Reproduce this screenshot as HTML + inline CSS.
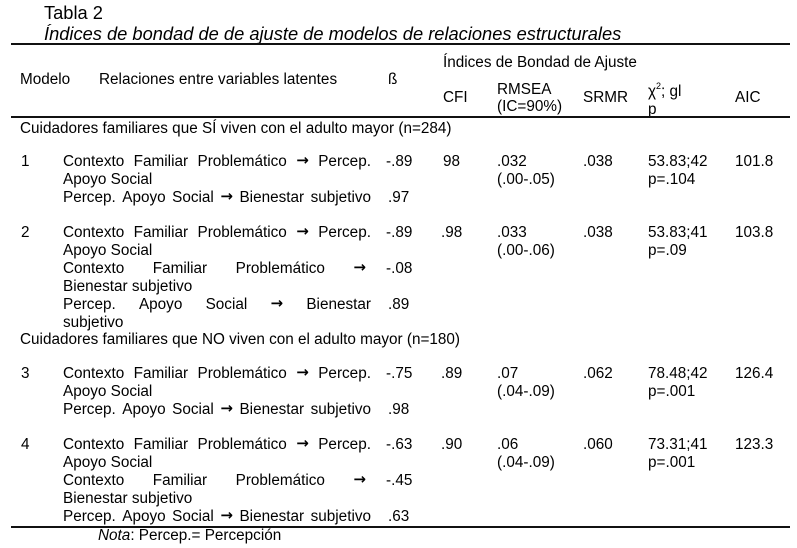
<!DOCTYPE html>
<html>
<head>
<meta charset="utf-8">
<style>
  html, body { margin:0; padding:0; background:#fff; }
  body { width:797px; height:548px; position:relative; overflow:hidden;
         font-family:"Liberation Sans", Arial, sans-serif; color:#000; }
  .t { position:absolute; font-size:15.3px; line-height:17px; white-space:nowrap; }
  .ti { position:absolute; font-size:18.3px; line-height:20px; white-space:nowrap; }
  .rule { position:absolute; left:11px; width:779px; height:2px; background:#111; }
  .j { position:absolute; left:63px; width:308px; display:flex; justify-content:space-between;
       font-size:15.3px; line-height:17px; white-space:nowrap; }
  .a { font-family:"DejaVu Sans", sans-serif; font-size:15px; font-weight:bold; position:relative; top:-1px; }
  sup { font-size:9px; line-height:0; position:relative; top:-1px; }
</style>
</head>
<body>
  <div class="ti" style="left:44px;top:3px;">Tabla 2</div>
  <div class="ti" style="left:44px;top:24px;font-style:italic;">Índices de bondad de de ajuste de modelos de relaciones estructurales</div>

  <div class="rule" style="top:43px;"></div>

  <div class="t" style="left:443px;top:54px;">Índices de Bondad de Ajuste</div>
  <div class="t" style="left:20px;top:71px;">Modelo</div>
  <div class="t" style="left:99px;top:71px;">Relaciones entre variables latentes</div>
  <div class="t" style="left:388px;top:71px;">ß</div>

  <div class="t" style="left:443px;top:89px;">CFI</div>
  <div class="t" style="left:497px;top:81px;">RMSEA</div>
  <div class="t" style="left:497px;top:98px;">(IC=90%)</div>
  <div class="t" style="left:583px;top:89px;">SRMR</div>
  <div class="t" style="left:648px;top:83px;">χ<sup>2</sup>; gl</div>
  <div class="t" style="left:648px;top:101px;">p</div>
  <div class="t" style="left:735px;top:89px;">AIC</div>

  <div class="rule" style="top:116px;"></div>

  <div class="t" style="left:20px;top:120px;">Cuidadores familiares que SÍ viven con el adulto mayor (n=284)</div>

  <!-- Model 1 -->
  <div class="t" style="left:21px;top:153px;">1</div>
  <div class="j" style="top:153px;"><span>Contexto</span><span>Familiar</span><span>Problemático</span><span class="a">→</span><span>Percep.</span></div>
  <div class="t" style="left:63px;top:171px;">Apoyo Social</div>
  <div class="j" style="top:189px;"><span>Percep.</span><span>Apoyo</span><span>Social</span><span class="a">→</span><span>Bienestar</span><span>subjetivo</span></div>
  <div class="t" style="left:386px;top:153px;">-.89</div>
  <div class="t" style="left:388px;top:189px;">.97</div>
  <div class="t" style="left:443px;top:153px;">98</div>
  <div class="t" style="left:497px;top:153px;">.032</div>
  <div class="t" style="left:497px;top:171px;">(.00-.05)</div>
  <div class="t" style="left:583px;top:153px;">.038</div>
  <div class="t" style="left:648px;top:153px;">53.83;42</div>
  <div class="t" style="left:648px;top:171px;">p=.104</div>
  <div class="t" style="left:735px;top:153px;">101.8</div>

  <!-- Model 2 -->
  <div class="t" style="left:21px;top:224px;">2</div>
  <div class="j" style="top:224px;"><span>Contexto</span><span>Familiar</span><span>Problemático</span><span class="a">→</span><span>Percep.</span></div>
  <div class="t" style="left:63px;top:242px;">Apoyo Social</div>
  <div class="j" style="top:260px;width:303px;"><span>Contexto</span><span>Familiar</span><span>Problemático</span><span class="a">→</span></div>
  <div class="t" style="left:63px;top:278px;">Bienestar subjetivo</div>
  <div class="j" style="top:296px;"><span>Percep.</span><span>Apoyo</span><span>Social</span><span class="a">→</span><span>Bienestar</span></div>
  <div class="t" style="left:63px;top:314px;">subjetivo</div>
  <div class="t" style="left:386px;top:224px;">-.89</div>
  <div class="t" style="left:386px;top:260px;">-.08</div>
  <div class="t" style="left:388px;top:296px;">.89</div>
  <div class="t" style="left:441px;top:224px;">.98</div>
  <div class="t" style="left:497px;top:224px;">.033</div>
  <div class="t" style="left:497px;top:242px;">(.00-.06)</div>
  <div class="t" style="left:583px;top:224px;">.038</div>
  <div class="t" style="left:648px;top:224px;">53.83;41</div>
  <div class="t" style="left:648px;top:242px;">p=.09</div>
  <div class="t" style="left:735px;top:224px;">103.8</div>

  <div class="t" style="left:20px;top:331px;">Cuidadores familiares que NO viven con el adulto mayor (n=180)</div>

  <!-- Model 3 -->
  <div class="t" style="left:21px;top:365px;">3</div>
  <div class="j" style="top:365px;"><span>Contexto</span><span>Familiar</span><span>Problemático</span><span class="a">→</span><span>Percep.</span></div>
  <div class="t" style="left:63px;top:383px;">Apoyo Social</div>
  <div class="j" style="top:401px;"><span>Percep.</span><span>Apoyo</span><span>Social</span><span class="a">→</span><span>Bienestar</span><span>subjetivo</span></div>
  <div class="t" style="left:386px;top:365px;">-.75</div>
  <div class="t" style="left:388px;top:401px;">.98</div>
  <div class="t" style="left:441px;top:365px;">.89</div>
  <div class="t" style="left:497px;top:365px;">.07</div>
  <div class="t" style="left:497px;top:383px;">(.04-.09)</div>
  <div class="t" style="left:583px;top:365px;">.062</div>
  <div class="t" style="left:648px;top:365px;">78.48;42</div>
  <div class="t" style="left:648px;top:383px;">p=.001</div>
  <div class="t" style="left:735px;top:365px;">126.4</div>

  <!-- Model 4 -->
  <div class="t" style="left:21px;top:436px;">4</div>
  <div class="j" style="top:436px;"><span>Contexto</span><span>Familiar</span><span>Problemático</span><span class="a">→</span><span>Percep.</span></div>
  <div class="t" style="left:63px;top:454px;">Apoyo Social</div>
  <div class="j" style="top:472px;width:303px;"><span>Contexto</span><span>Familiar</span><span>Problemático</span><span class="a">→</span></div>
  <div class="t" style="left:63px;top:490px;">Bienestar subjetivo</div>
  <div class="j" style="top:508px;"><span>Percep.</span><span>Apoyo</span><span>Social</span><span class="a">→</span><span>Bienestar</span><span>subjetivo</span></div>
  <div class="t" style="left:386px;top:436px;">-.63</div>
  <div class="t" style="left:386px;top:472px;">-.45</div>
  <div class="t" style="left:388px;top:508px;">.63</div>
  <div class="t" style="left:441px;top:436px;">.90</div>
  <div class="t" style="left:497px;top:436px;">.06</div>
  <div class="t" style="left:497px;top:454px;">(.04-.09)</div>
  <div class="t" style="left:583px;top:436px;">.060</div>
  <div class="t" style="left:648px;top:436px;">73.31;41</div>
  <div class="t" style="left:648px;top:454px;">p=.001</div>
  <div class="t" style="left:735px;top:436px;">123.3</div>

  <div class="rule" style="top:526px;"></div>

  <div class="t" style="left:98px;top:527px;"><i>Nota</i>: Percep.= Percepción</div>
</body>
</html>
